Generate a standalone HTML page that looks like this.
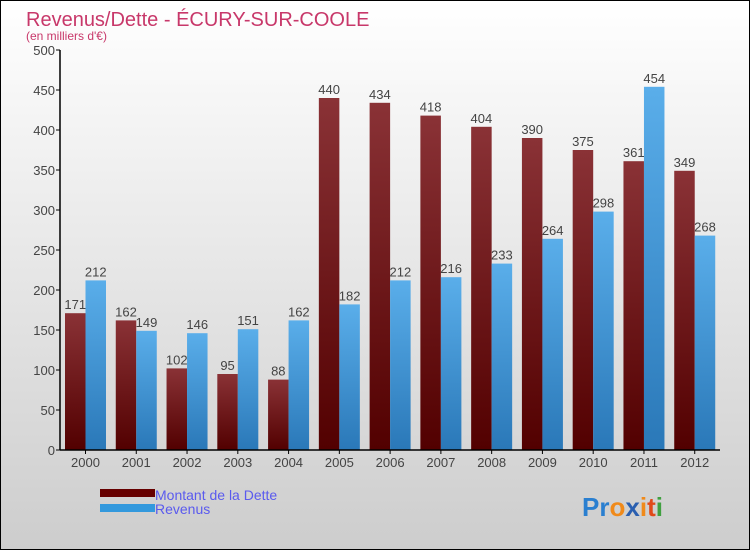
<!DOCTYPE html>
<html><head><meta charset="utf-8"><style>
body{margin:0}
#c{width:750px;height:550px;position:relative;overflow:hidden}
text{font-family:"Liberation Sans",sans-serif}
</style></head><body>
<div id="c">
<svg id="s" width="750" height="550" xmlns="http://www.w3.org/2000/svg">
<defs>
<linearGradient id="bg" x1="0" y1="0" x2="0" y2="1"><stop offset="0" stop-color="#ffffff"/><stop offset="1" stop-color="#cdcdcd"/></linearGradient>
<linearGradient id="gd" x1="0" y1="0" x2="0" y2="1"><stop offset="0" stop-color="#8a3236"/><stop offset="1" stop-color="#520000"/></linearGradient>
<linearGradient id="gr" x1="0" y1="0" x2="0" y2="1"><stop offset="0" stop-color="#5aaeea"/><stop offset="1" stop-color="#2a78b8"/></linearGradient>
</defs>
<rect x="0.5" y="0.5" width="749" height="549" fill="url(#bg)" stroke="#000"/>
<text x="26" y="26" font-size="20" fill="#c8386a">Revenus/Dette - ÉCURY-SUR-COOLE</text>
<text x="26" y="40" font-size="12" fill="#c8386a">(en milliers d'€)</text>
<g id="plot"></g>
<rect x="100" y="489" width="55" height="8" fill="#660000"/>
<text x="155" y="500" font-size="14" fill="#5a5aee">Montant de la Dette</text>
<rect x="100" y="504" width="55" height="8" fill="#3399dd"/>
<text x="155" y="514" font-size="14" fill="#5a5aee">Revenus</text>
<text x="582" y="516" font-size="26" font-weight="bold"><tspan fill="#2a7fd0">Pr</tspan><tspan fill="#f08a1a">o</tspan><tspan fill="#2a5fb0">x</tspan><tspan fill="#f08a1a">i</tspan><tspan fill="#e04a1a">t</tspan><tspan fill="#40a040">i</tspan></text>
</svg></div>
<script>
const years=["2000","2001","2002","2003","2004","2005","2006","2007","2008","2009","2010","2011","2012"];
const dette=[171,162,102,95,88,440,434,418,404,390,375,361,349];
const revenus=[212,149,146,151,162,182,212,216,233,264,298,454,268];
const ticks=[0,50,100,150,200,250,300,350,400,450,500];
const NS="http://www.w3.org/2000/svg";
const g=document.getElementById('plot');
const x0=60,x1=720,y0=450,yTop=50,vmax=500;
const step=(x1-x0)/years.length;
function y(v){return y0-(v/vmax)*(y0-yTop);}
function mk(t,a){const e=document.createElementNS(NS,t);for(const k in a)e.setAttribute(k,a[k]);g.appendChild(e);return e;}
ticks.forEach(t=>{
 const l=mk('line',{x1:x0-4,x2:x0,y1:y(t),y2:y(t),stroke:'#000'});
 
 
 const tx=mk('text',{x:x0-5,y:y(t)+5,'font-size':13,fill:'#444','text-anchor':'end'});
 tx.textContent=t;
 
 
});
const bw=20.5;
years.forEach((yr,i)=>{
 const bx=x0+i*step+5;
 const d=mk('rect',{x:bx,y:y(dette[i]),width:bw,height:y0-y(dette[i]),fill:'url(#gd)'});
 
 
 const r=mk('rect',{x:bx+bw,y:y(revenus[i]),width:bw,height:y0-y(revenus[i]),fill:'url(#gr)'});
 
 
 const ld=mk('text',{x:bx+bw/2,y:y(dette[i])-4,'font-size':13,fill:'#444','text-anchor':'middle'});
 ld.textContent=dette[i];
 
 
 const lr=mk('text',{x:bx+bw*1.5,y:y(revenus[i])-4,'font-size':13,fill:'#444','text-anchor':'middle'});
 lr.textContent=revenus[i];
 
 
 const cx=bx+bw;
 const tk=mk('line',{x1:cx,x2:cx,y1:y0,y2:y0+4,stroke:'#000'});
 
 
 const xl=mk('text',{x:cx,y:y0+17,'font-size':13,fill:'#444','text-anchor':'middle'});
 xl.textContent=yr;
 
 
});
const ya=mk('line',{x1:x0,x2:x0,y1:yTop,y2:y0,stroke:'#000','stroke-width':1.5});


const xa=mk('line',{x1:x0,x2:x1,y1:y0,y2:y0,stroke:'#000','stroke-width':1.5});


</script>
</body></html>
